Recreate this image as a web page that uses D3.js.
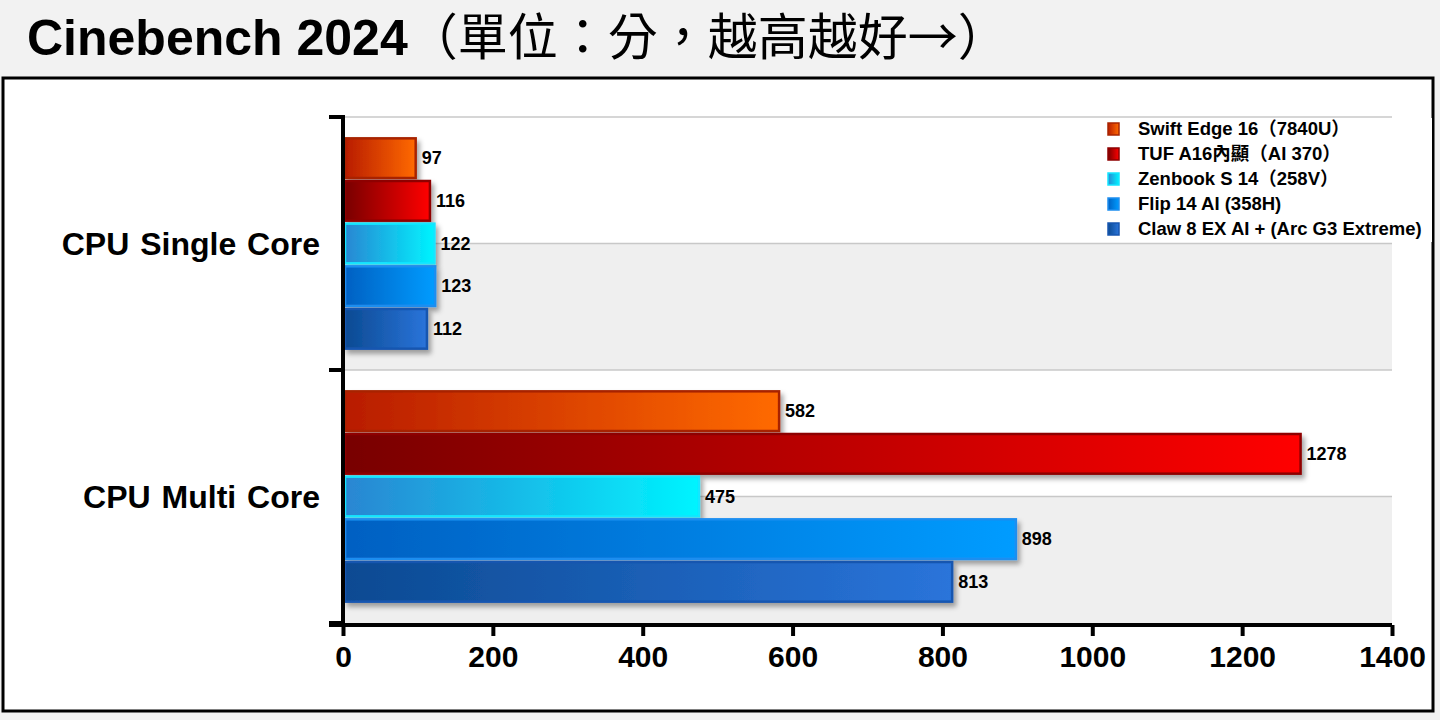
<!DOCTYPE html>
<html>
<head>
<meta charset="utf-8">
<script src="https://cdn.jsdelivr.net/npm/d3@7"></script>
<style>
  body { margin: 0; background: #f2f2f2; }
  svg { display: block; font-family: "Liberation Sans", Arial, "Noto Sans CJK TC", sans-serif; }
</style>
</head>
<body>
<div id="chart"></div>
<script>
var categories = ["CPU Single Core", "CPU Multi Core"];
var seriesNames = ["Swift Edge 16（7840U）", "TUF A16內顯（AI 370）", "Zenbook S 14（258V）", "Flip 14 AI (358H)", "Claw 8 EX AI + (Arc G3 Extreme)"];
var singleCore = [97, 116, 122, 123, 112];
var multiCore = [582, 1278, 475, 898, 813];
var xTicks = [0, 200, 400, 600, 800, 1000, 1200, 1400];

// gradient stops (left, right) and border per series
var colors = [
  {from: "#b81c00", to: "#ff6a00", stroke: "#a82400"},
  {from: "#780000", to: "#ff0000", stroke: "#8e0000"},
  {from: "#2a86d2", to: "#00f4ff", stroke: "#12e6ff"},
  {from: "#0060c2", to: "#009cff", stroke: "#1e8ef0"},
  {from: "#0b4a92", to: "#2a74da", stroke: "#1756b0"}
];

var values = [singleCore, multiCore];

var W = 1440, H = 720;
var svg = d3.select("#chart").append("svg")
  .attr("width", W).attr("height", H);

var defs = svg.append("defs");
colors.forEach(function(c, i) {
  var g = defs.append("linearGradient").attr("id", "grad" + i)
    .attr("x1", "0%").attr("x2", "100%").attr("y1", "0%").attr("y2", "0%");
  g.append("stop").attr("offset", "0%").attr("stop-color", c.from);
  g.append("stop").attr("offset", "100%").attr("stop-color", c.to);
});
defs.append("filter").attr("id", "shadow")
  .attr("x", "-5%").attr("y", "-20%").attr("width", "120%").attr("height", "160%")
  .append("feDropShadow")
    .attr("dx", 3).attr("dy", 4).attr("stdDeviation", 2.5)
    .attr("flood-color", "#000").attr("flood-opacity", 0.35);

// title
var title = svg.append("text")
  .attr("x", 27).attr("y", 55)
  .attr("font-size", 50).attr("fill", "#000");
title.append("tspan").attr("font-weight", "bold").text("Cinebench 2024");
title.append("tspan").attr("font-family", "'Noto Sans CJK TC', sans-serif")
  .attr("font-weight", "normal").text("（單位：分，越高越好→）");

// chart frame
svg.append("rect")
  .attr("x", 3).attr("y", 78).attr("width", 1430).attr("height", 633)
  .attr("fill", "#fff").attr("stroke", "#000").attr("stroke-width", 3);

var x = d3.scaleLinear().domain([0, 1400]).range([343, 1392]);
var y = d3.scaleBand().domain(categories).range([117, 623]);
var ySub = d3.scaleBand().domain(seriesNames).range([0, y.bandwidth()])
  .paddingInner(0.07).paddingOuter(0.5);

// alternating bands and gridlines
var bw = y.bandwidth();
categories.forEach(function(c) {
  svg.append("rect")
    .attr("x", x(0)).attr("y", y(c) + bw / 2)
    .attr("width", x(1400) - x(0)).attr("height", bw / 2)
    .attr("fill", "#efefef");
  [y(c), y(c) + bw / 2].forEach(function(gy) {
    svg.append("line")
      .attr("x1", x(0)).attr("x2", x(1400))
      .attr("y1", gy).attr("y2", gy)
      .attr("stroke", "#c8c8c8").attr("stroke-width", 1.5);
  });
});

// bars
categories.forEach(function(c, ci) {
  var g = svg.append("g").attr("transform", "translate(0," + y(c) + ")");
  g.selectAll("rect.bar")
    .data(values[ci])
    .enter()
    .append("rect")
      .attr("class", "bar")
      .attr("x", x(0) + 2)
      .attr("y", function(d, i) { return ySub(seriesNames[i]); })
      .attr("width", function(d) { return x(d) - x(0) - 2; })
      .attr("height", ySub.bandwidth())
      .attr("fill", function(d, i) { return "url(#grad" + i + ")"; })
      .attr("stroke", function(d, i) { return colors[i].stroke; })
      .attr("stroke-width", 2.5)
      .attr("filter", "url(#shadow)");
  g.selectAll("text.val")
    .data(values[ci])
    .enter()
    .append("text")
      .attr("class", "val")
      .attr("x", function(d) { return x(d) + 6; })
      .attr("y", function(d, i) { return ySub(seriesNames[i]) + ySub.bandwidth() / 2; })
      .attr("dy", "0.35em")
      .attr("font-size", 18).attr("font-weight", "bold")
      .text(function(d) { return d; });
});

// category labels
svg.selectAll("text.cat")
  .data(categories)
  .enter()
  .append("text")
    .attr("class", "cat")
    .attr("x", 320)
    .attr("y", function(d) { return y(d) + bw / 2; })
    .attr("dy", "0.36em")
    .attr("text-anchor", "end")
    .attr("font-size", 32).attr("font-weight", "bold")
    .attr("word-spacing", 2)
    .text(function(d) { return d; });

// y axis
var yAxis = svg.append("g").attr("transform", "translate(" + x(0) + ",0)");
yAxis.append("line").attr("x1", 0).attr("x2", 0)
  .attr("y1", 115).attr("y2", 627)
  .attr("stroke", "#000").attr("stroke-width", 4);
var yTickPos = categories.map(function(c) { return y(c); }).concat([y.range()[1]]);
yAxis.selectAll("line.tick")
  .data(yTickPos)
  .enter()
  .append("line")
    .attr("class", "tick")
    .attr("x1", -14).attr("x2", 0)
    .attr("y1", function(d) { return d; }).attr("y2", function(d) { return d; })
    .attr("stroke", "#000").attr("stroke-width", 4);

// x axis
var xAxis = svg.append("g")
  .attr("transform", "translate(0," + (y.range()[1] + 2) + ")")
  .call(d3.axisBottom(x).tickValues(xTicks).tickFormat(d3.format("d"))
    .tickSize(11).tickSizeOuter(0).tickPadding(10));
xAxis.select(".domain").attr("stroke-width", 4).attr("d", "M" + (x(0) - 14) + ",0H" + x(1400));
xAxis.selectAll(".tick line").attr("stroke-width", 4);
xAxis.selectAll(".tick text")
  .attr("font-size", 30).attr("font-weight", "bold")
  .attr("font-family", "'Liberation Sans', Arial, sans-serif")
  .attr("fill", "#000");

// legend
var legend = svg.append("g").attr("transform", "translate(1100,118)");
legend.append("rect").attr("x", 0).attr("y", 0).attr("width", 332).attr("height", 124).attr("fill", "#fff");
var items = legend.selectAll("g.item")
  .data(seriesNames)
  .enter()
  .append("g")
    .attr("class", "item")
    .attr("transform", function(d, i) { return "translate(0," + (11 + i * 25) + ")"; });
items.append("rect")
  .attr("x", 8).attr("y", -6).attr("width", 11).attr("height", 12)
  .attr("fill", function(d, i) { return "url(#grad" + i + ")"; })
  .attr("stroke", function(d, i) { return colors[i].stroke; })
  .attr("stroke-width", 1.5);
items.append("text")
  .attr("x", 38).attr("dy", "0.35em")
  .attr("font-size", 18.5).attr("font-weight", "bold")
  .text(function(d) { return d; });
</script>
</body>
</html>
